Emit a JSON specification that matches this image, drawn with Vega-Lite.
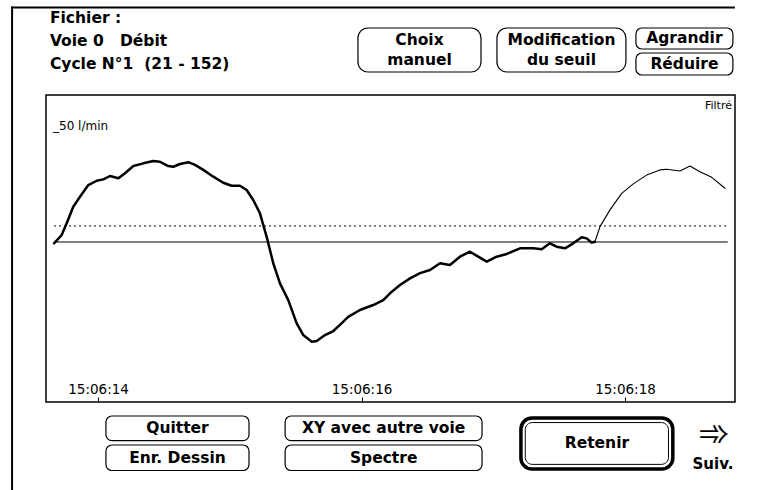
{
  "$schema": "https://vega.github.io/schema/vega-lite/v6.json",
  "width": 689,
  "height": 307,
  "autosize": {"type": "none"},
  "padding": {"left": 46, "top": 95, "right": 29, "bottom": 88},
  "background": "white",
  "config": {
    "view": {"stroke": "black", "strokeWidth": 1.5},
    "font": "DejaVu Sans",
    "axisY": {"disable": true}
  },
  "layer": [
    {
      "data": {"values": [
        {"t": 13.666, "v": -0.6, "seg": "cycle"},
        {"t": 13.724, "v": 3.1, "seg": "cycle"},
        {"t": 13.762, "v": 8.3, "seg": "cycle"},
        {"t": 13.812, "v": 15.6, "seg": "cycle"},
        {"t": 13.863, "v": 20.0, "seg": "cycle"},
        {"t": 13.926, "v": 25.2, "seg": "cycle"},
        {"t": 13.990, "v": 27.1, "seg": "cycle"},
        {"t": 14.040, "v": 27.7, "seg": "cycle"},
        {"t": 14.091, "v": 29.2, "seg": "cycle"},
        {"t": 14.154, "v": 28.2, "seg": "cycle"},
        {"t": 14.205, "v": 30.4, "seg": "cycle"},
        {"t": 14.268, "v": 33.6, "seg": "cycle"},
        {"t": 14.344, "v": 34.8, "seg": "cycle"},
        {"t": 14.419, "v": 35.8, "seg": "cycle"},
        {"t": 14.470, "v": 35.5, "seg": "cycle"},
        {"t": 14.533, "v": 33.6, "seg": "cycle"},
        {"t": 14.571, "v": 33.3, "seg": "cycle"},
        {"t": 14.622, "v": 34.5, "seg": "cycle"},
        {"t": 14.685, "v": 35.3, "seg": "cycle"},
        {"t": 14.736, "v": 34.1, "seg": "cycle"},
        {"t": 14.799, "v": 31.9, "seg": "cycle"},
        {"t": 14.875, "v": 28.9, "seg": "cycle"},
        {"t": 14.951, "v": 26.2, "seg": "cycle"},
        {"t": 15.014, "v": 24.9, "seg": "cycle"},
        {"t": 15.077, "v": 24.9, "seg": "cycle"},
        {"t": 15.128, "v": 23.0, "seg": "cycle"},
        {"t": 15.178, "v": 18.6, "seg": "cycle"},
        {"t": 15.229, "v": 12.7, "seg": "cycle"},
        {"t": 15.280, "v": 2.3, "seg": "cycle"},
        {"t": 15.330, "v": -9.4, "seg": "cycle"},
        {"t": 15.381, "v": -18.3, "seg": "cycle"},
        {"t": 15.444, "v": -25.7, "seg": "cycle"},
        {"t": 15.508, "v": -36.0, "seg": "cycle"},
        {"t": 15.558, "v": -41.2, "seg": "cycle"},
        {"t": 15.622, "v": -44.1, "seg": "cycle"},
        {"t": 15.660, "v": -43.8, "seg": "cycle"},
        {"t": 15.723, "v": -41.2, "seg": "cycle"},
        {"t": 15.786, "v": -39.4, "seg": "cycle"},
        {"t": 15.836, "v": -36.7, "seg": "cycle"},
        {"t": 15.899, "v": -33.1, "seg": "cycle"},
        {"t": 15.988, "v": -30.1, "seg": "cycle"},
        {"t": 16.089, "v": -27.9, "seg": "cycle"},
        {"t": 16.165, "v": -25.7, "seg": "cycle"},
        {"t": 16.216, "v": -22.7, "seg": "cycle"},
        {"t": 16.292, "v": -19.0, "seg": "cycle"},
        {"t": 16.368, "v": -16.1, "seg": "cycle"},
        {"t": 16.444, "v": -13.8, "seg": "cycle"},
        {"t": 16.520, "v": -12.4, "seg": "cycle"},
        {"t": 16.596, "v": -9.4, "seg": "cycle"},
        {"t": 16.671, "v": -10.2, "seg": "cycle"},
        {"t": 16.747, "v": -6.5, "seg": "cycle"},
        {"t": 16.823, "v": -4.3, "seg": "cycle"},
        {"t": 16.886, "v": -6.5, "seg": "cycle"},
        {"t": 16.950, "v": -8.7, "seg": "cycle"},
        {"t": 17.026, "v": -6.5, "seg": "cycle"},
        {"t": 17.102, "v": -5.3, "seg": "cycle"},
        {"t": 17.203, "v": -2.8, "seg": "cycle"},
        {"t": 17.304, "v": -2.8, "seg": "cycle"},
        {"t": 17.367, "v": -3.2, "seg": "cycle"},
        {"t": 17.430, "v": -0.6, "seg": "cycle"},
        {"t": 17.481, "v": -2.1, "seg": "cycle"},
        {"t": 17.544, "v": -2.8, "seg": "cycle"},
        {"t": 17.607, "v": -0.6, "seg": "cycle"},
        {"t": 17.671, "v": 2.1, "seg": "cycle"},
        {"t": 17.709, "v": 1.6, "seg": "cycle"},
        {"t": 17.747, "v": -0.3, "seg": "cycle"},
        {"t": 17.772, "v": 0.1, "seg": "cycle"},
        {"t": 17.772, "v": 0.1, "seg": "suite"},
        {"t": 17.810, "v": 6.8, "seg": "suite"},
        {"t": 17.886, "v": 14.2, "seg": "suite"},
        {"t": 17.975, "v": 21.5, "seg": "suite"},
        {"t": 18.063, "v": 25.7, "seg": "suite"},
        {"t": 18.164, "v": 29.6, "seg": "suite"},
        {"t": 18.266, "v": 31.9, "seg": "suite"},
        {"t": 18.316, "v": 32.2, "seg": "suite"},
        {"t": 18.417, "v": 31.4, "seg": "suite"},
        {"t": 18.493, "v": 33.6, "seg": "suite"},
        {"t": 18.569, "v": 31.1, "seg": "suite"},
        {"t": 18.658, "v": 28.6, "seg": "suite"},
        {"t": 18.759, "v": 23.8, "seg": "suite"}
      ]},
      "mark": {"type": "line", "color": "black", "strokeJoin": "round", "strokeCap": "round"},
      "encoding": {
        "x": {
          "field": "t", "type": "quantitative",
          "scale": {"domain": [13.605, 18.835], "nice": false, "zero": false},
          "axis": {
            "title": null, "values": [14, 16, 18], "domain": false, "grid": false,
            "labelExpr": "'15:06:' + format(datum.value, '02d')",
            "tickSize": -5, "tickColor": "black", "tickWidth": 1,
            "labelPadding": -4, "labelBaseline": "alphabetic",
            "labelFont": "DejaVu Sans", "labelFontSize": 13.5, "labelColor": "black"
          }
        },
        "y": {
          "field": "v", "type": "quantitative",
          "scale": {"domain": [-70.8, 65.04], "nice": false, "zero": false},
          "axis": null
        },
        "detail": {"field": "seg"},
        "strokeWidth": {
          "field": "seg", "type": "nominal",
          "scale": {"domain": ["cycle", "suite"], "range": [2.5, 1.1]},
          "legend": null
        }
      }
    },
    {
      "data": {"values": [{"name": "zéro"}]},
      "mark": {"type": "rule", "color": "black", "strokeWidth": 1},
      "encoding": {
        "x": {"datum": 13.666, "type": "quantitative"},
        "x2": {"datum": 18.78},
        "y": {"datum": 0, "type": "quantitative"}
      }
    },
    {
      "data": {"values": [{"name": "seuil"}]},
      "mark": {"type": "rule", "color": "black", "strokeWidth": 1, "strokeDash": [2, 3]},
      "encoding": {
        "x": {"datum": 13.666, "type": "quantitative"},
        "x2": {"datum": 18.78},
        "y": {"datum": 7.1, "type": "quantitative"}
      }
    },
    {
      "data": {"values": [{"label": "_50 l/min"}]},
      "mark": {"type": "text", "align": "left", "baseline": "alphabetic", "fontSize": 12, "font": "DejaVu Sans", "color": "black", "dx": -1, "dy": 1},
      "encoding": {
        "x": {"datum": 13.666, "type": "quantitative"},
        "y": {"datum": 50, "type": "quantitative"},
        "text": {"field": "label"}
      }
    },
    {
      "data": {"values": [{"label": "Filtré"}]},
      "mark": {"type": "text", "align": "right", "baseline": "top", "fontSize": 11, "font": "DejaVu Sans", "color": "black", "dx": -3, "dy": 5},
      "encoding": {
        "x": {"datum": 18.835, "type": "quantitative"},
        "y": {"datum": 65.04, "type": "quantitative"},
        "text": {"field": "label"}
      }
    },
    {
      "data": {"values": [{"label": "Fichier :\nVoie 0\u00a0\u00a0\u00a0Débit\nCycle N°1\u00a0\u00a0(21 - 152)"}]},
      "mark": {"type": "text", "align": "left", "baseline": "top", "lineBreak": "\n", "lineHeight": 23, "font": "DejaVu Sans", "fontWeight": "bold", "fontSize": 15.5, "color": "black"},
      "encoding": {
        "x": {"datum": 13.635, "type": "quantitative"},
        "y": {"datum": 102.2, "type": "quantitative"},
        "text": {"field": "label"}
      }
    },
    {
      "data": {"values": [{"name": "bord gauche"}]},
      "mark": {"type": "rect", "color": "black"},
      "encoding": {
        "x": {"datum": 13.34, "type": "quantitative"},
        "x2": {"datum": 13.355},
        "y": {"datum": 104.2, "type": "quantitative"},
        "y2": {"datum": -109.7}
      }
    },
    {
      "data": {"values": [{"name": "bord haut"}]},
      "mark": {"type": "rect", "color": "black"},
      "encoding": {
        "x": {"datum": 13.34, "type": "quantitative"},
        "x2": {"datum": 18.834},
        "y": {"datum": 104.2, "type": "quantitative"},
        "y2": {"datum": 103.3}
      }
    },
    {
      "data": {"values": [{"label": "Choix\nmanuel"}]},
      "layer": [
        {"mark": {"type": "rect", "fill": "white", "stroke": "black", "strokeWidth": 1.2, "cornerRadius": 10},
         "encoding": {"x": {"datum": 15.973, "type": "quantitative"}, "x2": {"datum": 16.907}, "y": {"datum": 94.69, "type": "quantitative"}, "y2": {"datum": 75.22}}},
        {"mark": {"type": "text", "lineBreak": "\n", "lineHeight": 20, "font": "DejaVu Sans", "fontWeight": "bold", "fontSize": 15.5, "color": "black", "baseline": "middle", "dy": -10},
         "encoding": {"x": {"datum": 16.44, "type": "quantitative"}, "y": {"datum": 84.96, "type": "quantitative"}, "text": {"field": "label"}}}
      ]
    },
    {
      "data": {"values": [{"label": "Modification\ndu seuil"}]},
      "layer": [
        {"mark": {"type": "rect", "fill": "white", "stroke": "black", "strokeWidth": 1.2, "cornerRadius": 10},
         "encoding": {"x": {"datum": 17.028, "type": "quantitative"}, "x2": {"datum": 18.007}, "y": {"datum": 94.69, "type": "quantitative"}, "y2": {"datum": 75.22}}},
        {"mark": {"type": "text", "lineBreak": "\n", "lineHeight": 20, "font": "DejaVu Sans", "fontWeight": "bold", "fontSize": 15.5, "color": "black", "baseline": "middle", "dy": -10},
         "encoding": {"x": {"datum": 17.518, "type": "quantitative"}, "y": {"datum": 84.96, "type": "quantitative"}, "text": {"field": "label"}}}
      ]
    },
    {
      "data": {"values": [{"label": "Agrandir"}]},
      "layer": [
        {"mark": {"type": "rect", "fill": "white", "stroke": "black", "strokeWidth": 1.2, "cornerRadius": 6},
         "encoding": {"x": {"datum": 18.083, "type": "quantitative"}, "x2": {"datum": 18.819}, "y": {"datum": 94.69, "type": "quantitative"}, "y2": {"datum": 85.4}}},
        {"mark": {"type": "text", "font": "DejaVu Sans", "fontWeight": "bold", "fontSize": 15.5, "color": "black", "baseline": "middle"},
         "encoding": {"x": {"datum": 18.451, "type": "quantitative"}, "y": {"datum": 90.04, "type": "quantitative"}, "text": {"field": "label"}}}
      ]
    },
    {
      "data": {"values": [{"label": "Réduire"}]},
      "layer": [
        {"mark": {"type": "rect", "fill": "white", "stroke": "black", "strokeWidth": 1.2, "cornerRadius": 6},
         "encoding": {"x": {"datum": 18.083, "type": "quantitative"}, "x2": {"datum": 18.819}, "y": {"datum": 83.63, "type": "quantitative"}, "y2": {"datum": 73.89}}},
        {"mark": {"type": "text", "font": "DejaVu Sans", "fontWeight": "bold", "fontSize": 15.5, "color": "black", "baseline": "middle"},
         "encoding": {"x": {"datum": 18.451, "type": "quantitative"}, "y": {"datum": 78.76, "type": "quantitative"}, "text": {"field": "label"}}}
      ]
    },
    {
      "data": {"values": [{"label": "Quitter"}]},
      "layer": [
        {"mark": {"type": "rect", "fill": "white", "stroke": "black", "strokeWidth": 1.2, "cornerRadius": 6},
         "encoding": {"x": {"datum": 14.06, "type": "quantitative"}, "x2": {"datum": 15.146}, "y": {"datum": -76.99, "type": "quantitative"}, "y2": {"datum": -87.9}}},
        {"mark": {"type": "text", "font": "DejaVu Sans", "fontWeight": "bold", "fontSize": 15.5, "color": "black", "baseline": "middle"},
         "encoding": {"x": {"datum": 14.603, "type": "quantitative"}, "y": {"datum": -82.45, "type": "quantitative"}, "text": {"field": "label"}}}
      ]
    },
    {
      "data": {"values": [{"label": "Enr. Dessin"}]},
      "layer": [
        {"mark": {"type": "rect", "fill": "white", "stroke": "black", "strokeWidth": 1.2, "cornerRadius": 6},
         "encoding": {"x": {"datum": 14.06, "type": "quantitative"}, "x2": {"datum": 15.146}, "y": {"datum": -89.82, "type": "quantitative"}, "y2": {"datum": -101.1}}},
        {"mark": {"type": "text", "font": "DejaVu Sans", "fontWeight": "bold", "fontSize": 15.5, "color": "black", "baseline": "middle"},
         "encoding": {"x": {"datum": 14.603, "type": "quantitative"}, "y": {"datum": -95.46, "type": "quantitative"}, "text": {"field": "label"}}}
      ]
    },
    {
      "data": {"values": [{"label": "XY avec autre voie"}]},
      "layer": [
        {"mark": {"type": "rect", "fill": "white", "stroke": "black", "strokeWidth": 1.2, "cornerRadius": 6},
         "encoding": {"x": {"datum": 15.42, "type": "quantitative"}, "x2": {"datum": 16.915}, "y": {"datum": -76.99, "type": "quantitative"}, "y2": {"datum": -87.9}}},
        {"mark": {"type": "text", "font": "DejaVu Sans", "fontWeight": "bold", "fontSize": 15.5, "color": "black", "baseline": "middle"},
         "encoding": {"x": {"datum": 16.168, "type": "quantitative"}, "y": {"datum": -82.45, "type": "quantitative"}, "text": {"field": "label"}}}
      ]
    },
    {
      "data": {"values": [{"label": "Spectre"}]},
      "layer": [
        {"mark": {"type": "rect", "fill": "white", "stroke": "black", "strokeWidth": 1.2, "cornerRadius": 6},
         "encoding": {"x": {"datum": 15.42, "type": "quantitative"}, "x2": {"datum": 16.915}, "y": {"datum": -89.82, "type": "quantitative"}, "y2": {"datum": -101.1}}},
        {"mark": {"type": "text", "font": "DejaVu Sans", "fontWeight": "bold", "fontSize": 15.5, "color": "black", "baseline": "middle"},
         "encoding": {"x": {"datum": 16.168, "type": "quantitative"}, "y": {"datum": -95.46, "type": "quantitative"}, "text": {"field": "label"}}}
      ]
    },
    {
      "data": {"values": [{"label": "Retenir"}]},
      "layer": [
        {"mark": {"type": "rect", "fill": "white", "stroke": "black", "strokeWidth": 3.5, "cornerRadius": 11},
         "encoding": {"x": {"datum": 17.21, "type": "quantitative"}, "x2": {"datum": 18.363}, "y": {"datum": -77.9, "type": "quantitative"}, "y2": {"datum": -100.4}}},
        {"mark": {"type": "rect", "fill": "white", "stroke": "black", "strokeWidth": 1, "cornerRadius": 7},
         "encoding": {"x": {"datum": 17.243, "type": "quantitative"}, "x2": {"datum": 18.33}, "y": {"datum": -79.9, "type": "quantitative"}, "y2": {"datum": -98.4}}},
        {"mark": {"type": "text", "font": "DejaVu Sans", "fontWeight": "bold", "fontSize": 15.5, "color": "black", "baseline": "middle"},
         "encoding": {"x": {"datum": 17.787, "type": "quantitative"}, "y": {"datum": -89.1, "type": "quantitative"}, "text": {"field": "label"}}}
      ]
    },
    {
      "data": {"values": [{"label": "Suiv.", "icon": "➾"}]},
      "layer": [
        {"mark": {"type": "text", "font": "DejaVu Sans", "fontSize": 38, "color": "black", "baseline": "middle"},
         "encoding": {"x": {"datum": 18.675, "type": "quantitative"}, "y": {"datum": -85.5, "type": "quantitative"}, "text": {"field": "icon"}}},
        {"mark": {"type": "text", "font": "DejaVu Sans", "fontWeight": "bold", "fontSize": 15, "color": "black", "baseline": "middle"},
         "encoding": {"x": {"datum": 18.668, "type": "quantitative"}, "y": {"datum": -98.2, "type": "quantitative"}, "text": {"field": "label"}}}
      ]
    }
  ]
}
